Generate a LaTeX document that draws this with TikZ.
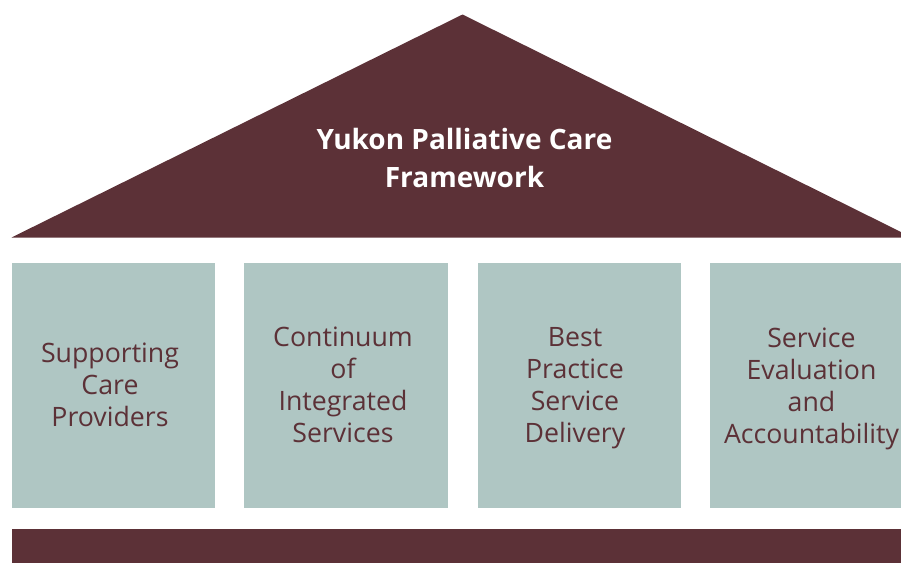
\documentclass[tikz,border=0pt]{standalone}
\usepackage{fontspec}
\setmainfont{Open Sans}
\definecolor{roof}{HTML}{5C3137}
\definecolor{pillarfill}{HTML}{AFC6C3}
\begin{document}
\begin{tikzpicture}[x=1pt,y=-1pt,
  pillar/.style={fill=pillarfill,draw=none},
  pillartext/.style={text=roof,align=center,font=\fontsize{26.7}{32}\selectfont,inner sep=0pt},
  rooftext/.style={text=white,align=center,font=\fontsize{28}{38}\selectfont\bfseries,inner sep=0pt}]
  \useasboundingbox (0,0) rectangle (901,563);
  % roof
  \fill[roof] (11.5,237.5) -- (462.5,14.5) -- (901,232) -- (901,237.5) -- cycle;
  \node[rooftext] (title) at (464.5,158) {Yukon Palliative Care\\Framework};
  % pillars
  \fill[pillar] (11.5,263) rectangle (215,507.5);
  \fill[pillar] (244,263) rectangle (447.5,507.5);
  \fill[pillar] (477.5,263) rectangle (681,507.5);
  \fill[pillar] (710,263) rectangle (901,507.5);
  \node[pillartext] (p1) at (110,385) {Supporting\\Care\\Providers};
  \node[pillartext] (p2) at (343,385) {Continuum\\of\\Integrated\\Services};
  \node[pillartext] (p3) at (575,388.5) {Best\\Practice\\Service\\Delivery};
  \node[pillartext] (p4) at (811.5,388.5) {Service\\Evaluation\\and\\Accountability};
  % base
  \fill[roof] (11.5,529) rectangle (901,563);
\end{tikzpicture}
\end{document}
